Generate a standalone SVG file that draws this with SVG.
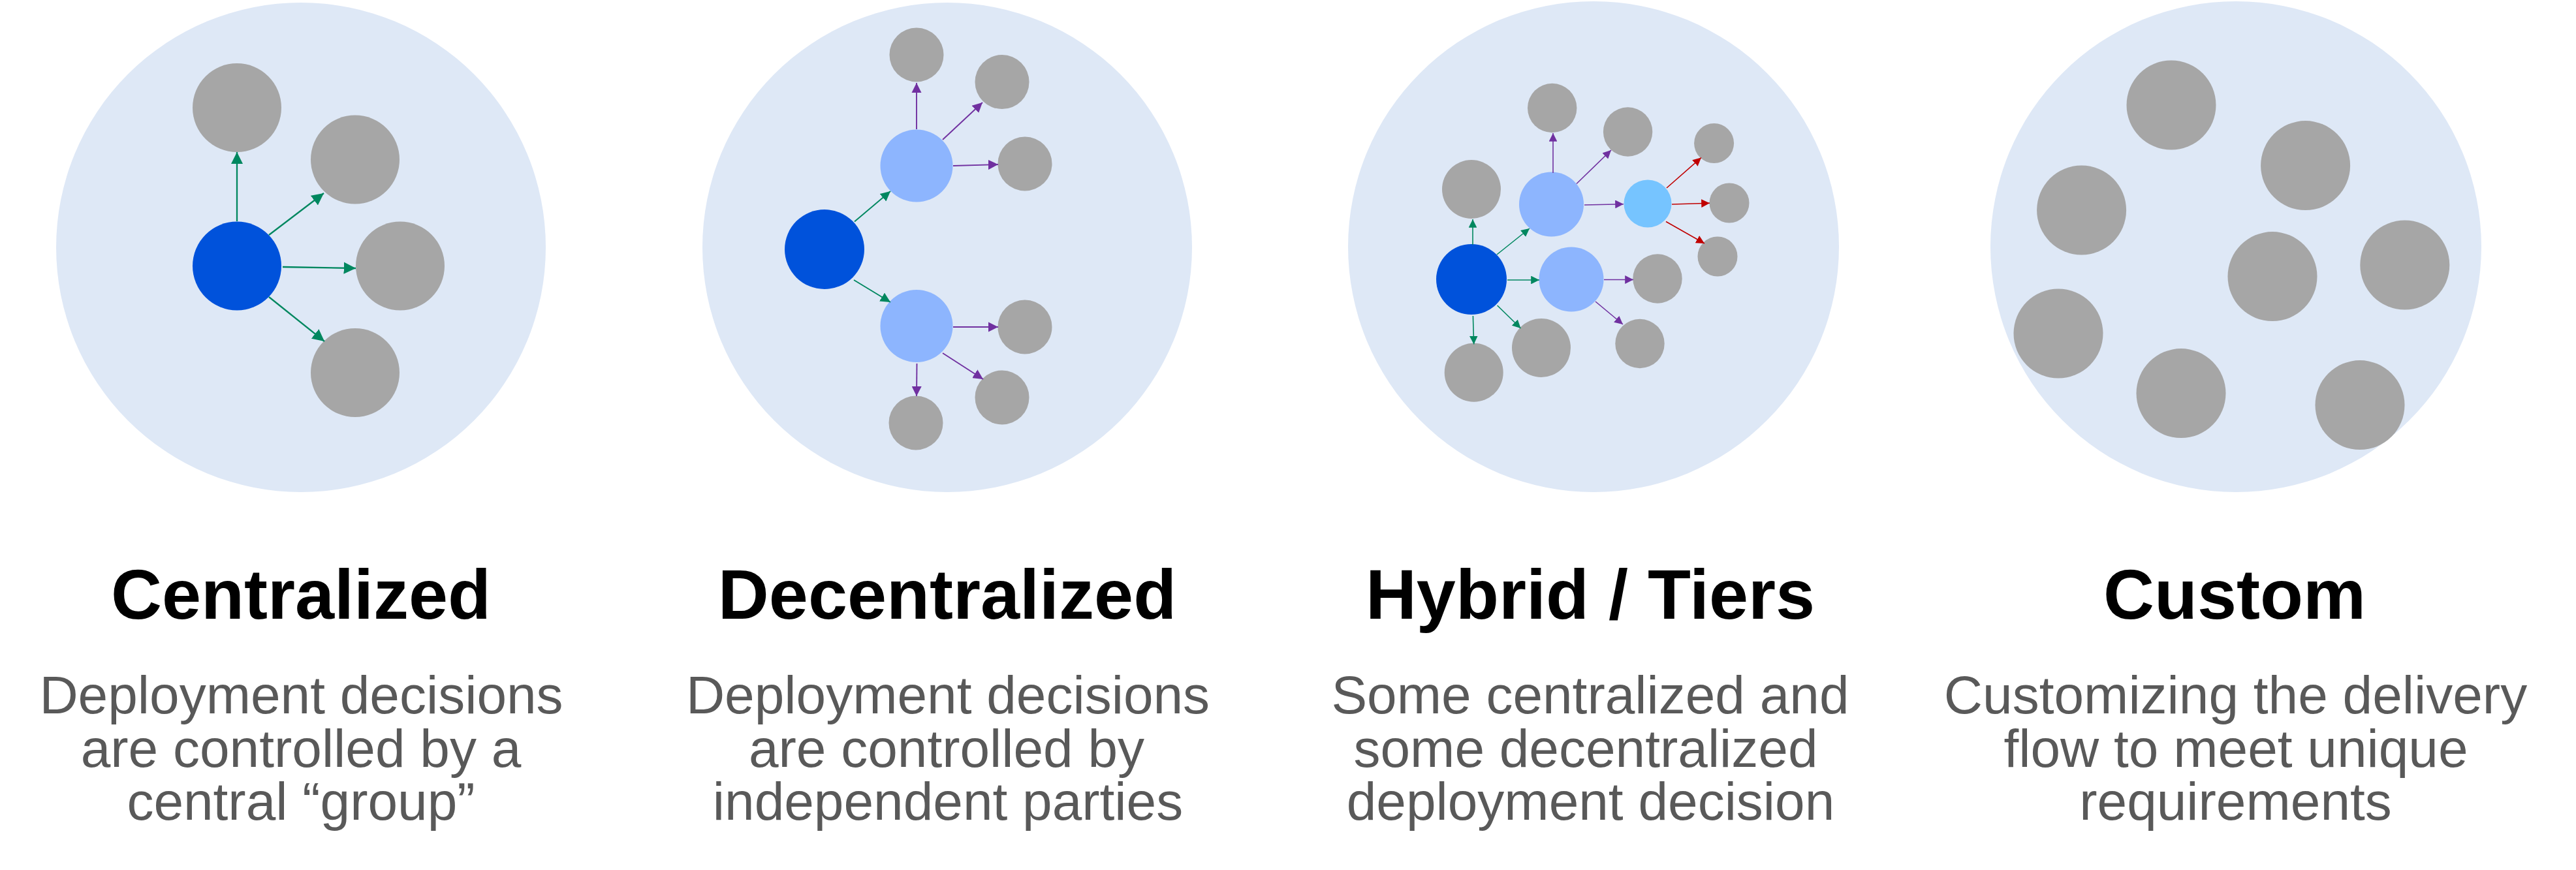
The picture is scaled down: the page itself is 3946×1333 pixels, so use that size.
<svg xmlns="http://www.w3.org/2000/svg" width="3946" height="1333" viewBox="0 0 3946 1333">
<style>
.bg{fill:#DEE8F6}
.gray{fill:#A6A6A6}
.dark{fill:#0052DB}
.light{fill:#8DB5FE}
.cyan{fill:#76C4FF}
.c{fill:none;stroke-linecap:butt}
.g{stroke:#00875F}
.p{stroke:#7030A0}
.r{stroke:#C00000}
.w1{stroke-width:2.3}
.w2{stroke-width:1.9}
.w3{stroke-width:1.6}
.title{font-family:"Liberation Sans",Arial,sans-serif;font-weight:bold;font-size:108px;fill:#000;text-anchor:middle}
.body{font-family:"Liberation Sans",Arial,sans-serif;font-size:82px;fill:#595959;text-anchor:middle}
</style>
<defs>
<marker id="ag" viewBox="0 0 8 8" markerWidth="8" markerHeight="8" refX="8" refY="4" orient="auto" markerUnits="strokeWidth"><path d="M0,0 L8,4 L0,8 z" fill="#00875F"/></marker>
<marker id="ap" viewBox="0 0 8 8" markerWidth="8" markerHeight="8" refX="8" refY="4" orient="auto" markerUnits="strokeWidth"><path d="M0,0 L8,4 L0,8 z" fill="#7030A0"/></marker>
<marker id="ar" viewBox="0 0 8 8" markerWidth="8" markerHeight="8" refX="8" refY="4" orient="auto" markerUnits="strokeWidth"><path d="M0,0 L8,4 L0,8 z" fill="#C00000"/></marker>
</defs>
<rect width="3946" height="1333" fill="#fff"/>

<g id="panel-centralized">
<circle class="bg" cx="461" cy="379" r="375"/>
<g id="c-hub"><circle class="dark" cx="363" cy="407.5" r="68"/></g>
<g id="c-n1"><circle class="gray" cx="363" cy="165" r="68"/></g>
<g id="c-n2"><circle class="gray" cx="544" cy="244.5" r="68"/></g>
<g id="c-n3"><circle class="gray" cx="613" cy="407.5" r="68"/></g>
<g id="c-n4"><circle class="gray" cx="544" cy="571" r="68"/></g>
</g>

<g id="panel-decentralized">
<circle class="bg" cx="1451" cy="379" r="375"/>
<g id="d-hub"><circle class="dark" cx="1263" cy="382" r="61"/></g>
<g id="d-a"><circle class="light" cx="1404" cy="254" r="55.5"/></g>
<g id="d-b"><circle class="light" cx="1404" cy="499.5" r="55.5"/></g>
<g id="d-n1"><circle class="gray" cx="1404" cy="84" r="41.5"/></g>
<g id="d-n2"><circle class="gray" cx="1535" cy="125.6" r="41.5"/></g>
<g id="d-n3"><circle class="gray" cx="1570" cy="251" r="41.5"/></g>
<g id="d-n4"><circle class="gray" cx="1570" cy="501" r="41.5"/></g>
<g id="d-n5"><circle class="gray" cx="1535" cy="609" r="41.5"/></g>
<g id="d-n6"><circle class="gray" cx="1403" cy="648" r="41.5"/></g>
</g>

<g id="panel-hybrid">
<circle class="bg" cx="2441" cy="378" r="376"/>
<g id="h-hub"><circle class="dark" cx="2254" cy="428" r="54"/></g>
<g id="h-a"><circle class="light" cx="2376.5" cy="313" r="49.5"/></g>
<g id="h-b"><circle class="light" cx="2407" cy="428" r="49.5"/></g>
<g id="h-c"><circle class="cyan" cx="2524" cy="312" r="36.5"/></g>
<g id="h-n1"><circle class="gray" cx="2254" cy="290" r="45"/></g>
<g id="h-n2"><circle class="gray" cx="2257.7" cy="570.7" r="45"/></g>
<g id="h-n3"><circle class="gray" cx="2361" cy="533" r="45"/></g>
<g id="h-n4"><circle class="gray" cx="2377.7" cy="165.5" r="37.7"/></g>
<g id="h-n5"><circle class="gray" cx="2493.6" cy="202" r="37.7"/></g>
<g id="h-n6"><circle class="gray" cx="2539" cy="427" r="37.7"/></g>
<g id="h-n7"><circle class="gray" cx="2512" cy="526.5" r="37.7"/></g>
<g id="h-n8"><circle class="gray" cx="2625.6" cy="219.5" r="30.5"/></g>
<g id="h-n9"><circle class="gray" cx="2649" cy="311" r="30.5"/></g>
<g id="h-n10"><circle class="gray" cx="2631" cy="393" r="30.5"/></g>
</g>

<g id="panel-custom">
<circle class="bg" cx="3425" cy="378" r="376"/>
<g id="u-n1"><circle class="gray" cx="3326" cy="161" r="68.5"/></g>
<g id="u-n2"><circle class="gray" cx="3531.6" cy="253.6" r="68.5"/></g>
<g id="u-n3"><circle class="gray" cx="3188.6" cy="322" r="68.5"/></g>
<g id="u-n4"><circle class="gray" cx="3481" cy="423.6" r="68.5"/></g>
<g id="u-n5"><circle class="gray" cx="3683.8" cy="406" r="68.5"/></g>
<g id="u-n6"><circle class="gray" cx="3153" cy="511" r="68.5"/></g>
<g id="u-n7"><circle class="gray" cx="3341" cy="602.6" r="68.5"/></g>
<g id="u-n8"><circle class="gray" cx="3615" cy="620.6" r="68.5"/></g>
</g>

<g id="connectors">
<line class="c g w1" x1="363" y1="339" x2="363" y2="233" marker-end="url(#ag)"/>
<line class="c g w1" x1="412" y1="360" x2="496" y2="296" marker-end="url(#ag)"/>
<line class="c g w1" x1="433" y1="409" x2="545" y2="411" marker-end="url(#ag)"/>
<line class="c g w1" x1="412" y1="455" x2="497" y2="523" marker-end="url(#ag)"/>

<line class="c g w2" x1="1309" y1="339.5" x2="1364" y2="293" marker-end="url(#ag)"/>
<line class="c g w2" x1="1308" y1="429" x2="1364" y2="463" marker-end="url(#ag)"/>
<line class="c p w2" x1="1404" y1="198" x2="1404" y2="127" marker-end="url(#ap)"/>
<line class="c p w2" x1="1444" y1="214" x2="1505" y2="157" marker-end="url(#ap)"/>
<line class="c p w2" x1="1460" y1="254" x2="1529" y2="252" marker-end="url(#ap)"/>
<line class="c p w2" x1="1460" y1="501" x2="1529" y2="501" marker-end="url(#ap)"/>
<line class="c p w2" x1="1444" y1="541" x2="1506" y2="581" marker-end="url(#ap)"/>
<line class="c p w2" x1="1404.5" y1="557" x2="1404" y2="607" marker-end="url(#ap)"/>

<line class="c g w3" x1="2256" y1="375" x2="2256" y2="336" marker-end="url(#ag)"/>
<line class="c g w3" x1="2293" y1="390" x2="2343" y2="350" marker-end="url(#ag)"/>
<line class="c g w3" x1="2309" y1="429" x2="2358" y2="429" marker-end="url(#ag)"/>
<line class="c g w3" x1="2293.6" y1="468" x2="2329.5" y2="503" marker-end="url(#ag)"/>
<line class="c g w3" x1="2256.4" y1="484" x2="2257.7" y2="527.5" marker-end="url(#ag)"/>
<line class="c p w3" x1="2379" y1="265" x2="2379" y2="204" marker-end="url(#ap)"/>
<line class="c p w3" x1="2415" y1="281.5" x2="2468" y2="230" marker-end="url(#ap)"/>
<line class="c p w3" x1="2427" y1="314" x2="2487" y2="312.7" marker-end="url(#ap)"/>
<line class="c p w3" x1="2457" y1="428.5" x2="2502" y2="428.5" marker-end="url(#ap)"/>
<line class="c p w3" x1="2444" y1="462" x2="2486" y2="497" marker-end="url(#ap)"/>
<line class="c r w3" x1="2553" y1="288" x2="2606" y2="241.5" marker-end="url(#ar)"/>
<line class="c r w3" x1="2561" y1="313" x2="2619" y2="311.3" marker-end="url(#ar)"/>
<line class="c r w3" x1="2552" y1="339.5" x2="2611" y2="373" marker-end="url(#ar)"/>
</g>

<g id="labels">
<text class="title" x="461" y="948">Centralized</text>
<text class="body" x="461.5" y="1093">Deployment decisions</text>
<text class="body" x="461" y="1174.6">are controlled by a</text>
<text class="body" x="461" y="1256">central “group”</text>

<text class="title" x="1451" y="948">Decentralized</text>
<text class="body" x="1452" y="1093">Deployment decisions</text>
<text class="body" x="1450" y="1174.6">are controlled by</text>
<text class="body" x="1452" y="1256">independent parties</text>

<text class="title" x="2436" y="948">Hybrid / Tiers</text>
<text class="body" x="2436" y="1093">Some centralized and</text>
<text class="body" x="2429" y="1174.6">some decentralized</text>
<text class="body" x="2436.5" y="1256">deployment decision</text>

<text class="title" x="3423" y="948">Custom</text>
<text class="body" x="3424.5" y="1093">Customizing the delivery</text>
<text class="body" x="3425" y="1174.6">flow to meet unique</text>
<text class="body" x="3424.5" y="1256">requirements</text>
</g>
</svg>
